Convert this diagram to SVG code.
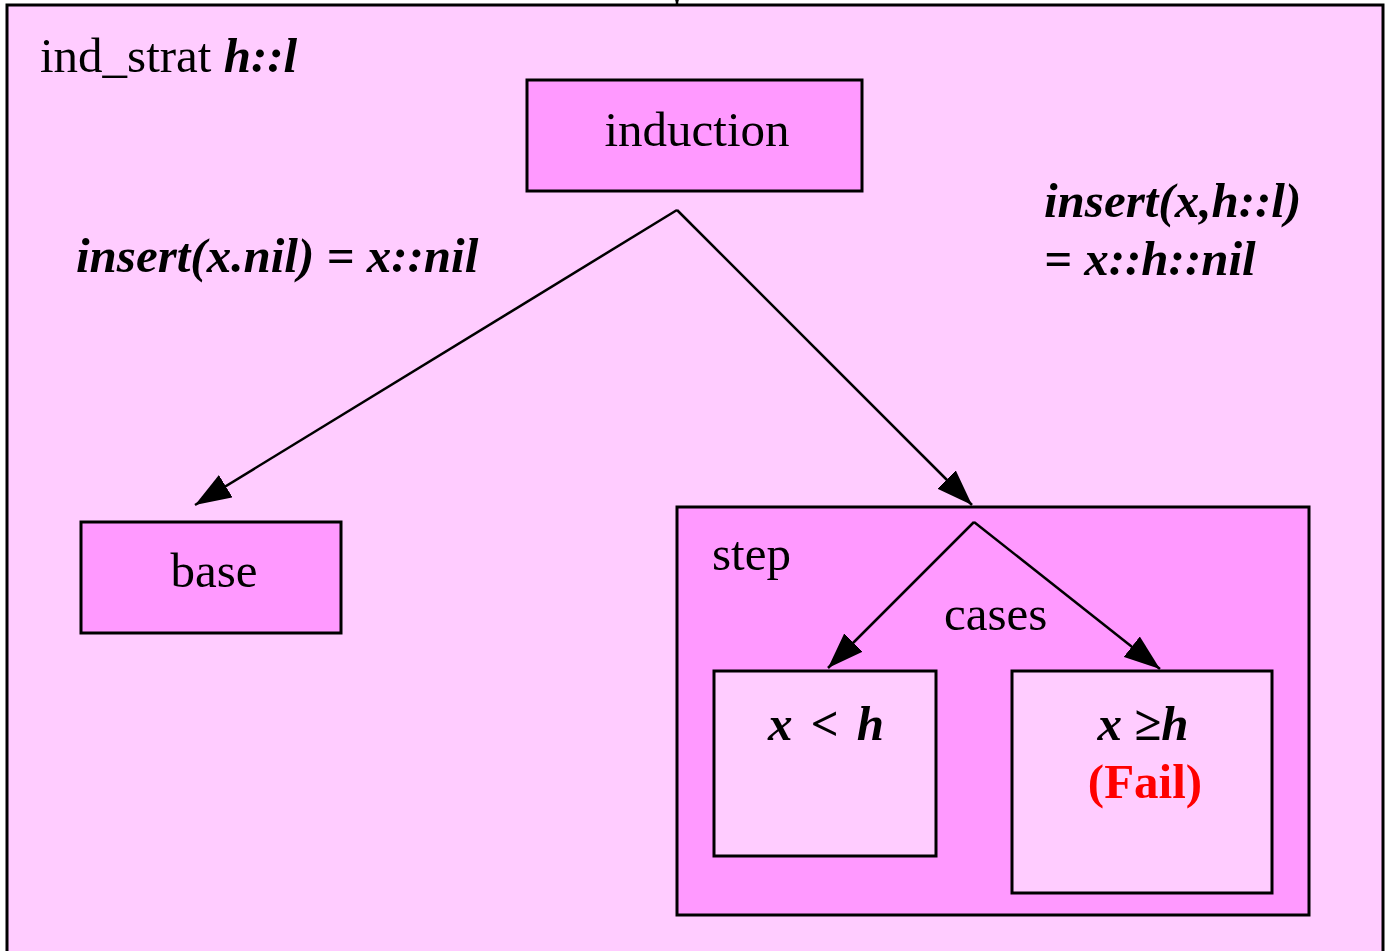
<svg xmlns="http://www.w3.org/2000/svg" width="1385" height="951" viewBox="0 0 1385 951">
<defs>
<marker id="ah" markerWidth="36" markerHeight="26" refX="36" refY="13" orient="auto" markerUnits="userSpaceOnUse">
<path d="M0,0 L36,13 L0,26 Z" fill="#000"/>
</marker>
<style>
.t{font-family:"Liberation Serif","Times New Roman",serif;font-size:49px;fill:#000}
.bi{font-weight:bold;font-style:italic}
.box{stroke:#000;stroke-width:3}
.c{stroke:#000;stroke-width:2.5;fill:none}
</style>
</defs>
<rect x="0" y="0" width="1385" height="951" fill="#fff"/>
<g id="ind_strat">
<rect class="box" x="7" y="5" width="1376" height="960" fill="#FFCCFF"/>
<text class="t" x="40" y="72">ind_strat <tspan class="bi">h::l</tspan></text>
</g>
<g id="induction">
<rect class="box" x="527" y="80" width="335" height="111" fill="#FF99FF"/>
<text class="t" x="697" y="146" text-anchor="middle">induction</text>
</g>
<g id="base">
<rect class="box" x="81" y="522" width="260" height="111" fill="#FF99FF"/>
<text class="t" x="214" y="587" text-anchor="middle">base</text>
</g>
<g id="step">
<rect class="box" x="677" y="507" width="632" height="408" fill="#FF99FF"/>
<text class="t" x="712" y="570">step</text>
</g>
<g id="lt">
<rect class="box" x="714" y="671" width="222" height="185" fill="#FFCCFF"/>
<text class="t bi" x="826" y="740" text-anchor="middle" word-spacing="6">x &lt; h</text>
</g>
<g id="ge">
<rect class="box" x="1012" y="671" width="260" height="222" fill="#FFCCFF"/>
<text class="t bi" x="1143" y="740" text-anchor="middle">x ≥h</text>
<text class="t" x="1145" y="798" text-anchor="middle" font-weight="bold" style="fill:#FF0000">(Fail)</text>
</g>
<g id="connectors">
<line class="c" x1="677" y1="-30" x2="677" y2="5" marker-end="url(#ah)"/>
<line class="c" x1="677" y1="210" x2="195" y2="505" marker-end="url(#ah)"/>
<line class="c" x1="677" y1="210" x2="972" y2="505" marker-end="url(#ah)"/>
<line class="c" x1="974" y1="522" x2="828" y2="668" marker-end="url(#ah)"/>
<line class="c" x1="974" y1="522" x2="1160" y2="669" marker-end="url(#ah)"/>
</g>
<g id="labels">
<text class="t bi" x="76" y="272">insert(x.nil) = x::nil</text>
<text class="t bi" x="1044" y="217">insert(x,h::l)</text>
<text class="t bi" x="1044" y="275">= x::h::nil</text>
<text class="t" x="944" y="630">cases</text>
</g>
</svg>
